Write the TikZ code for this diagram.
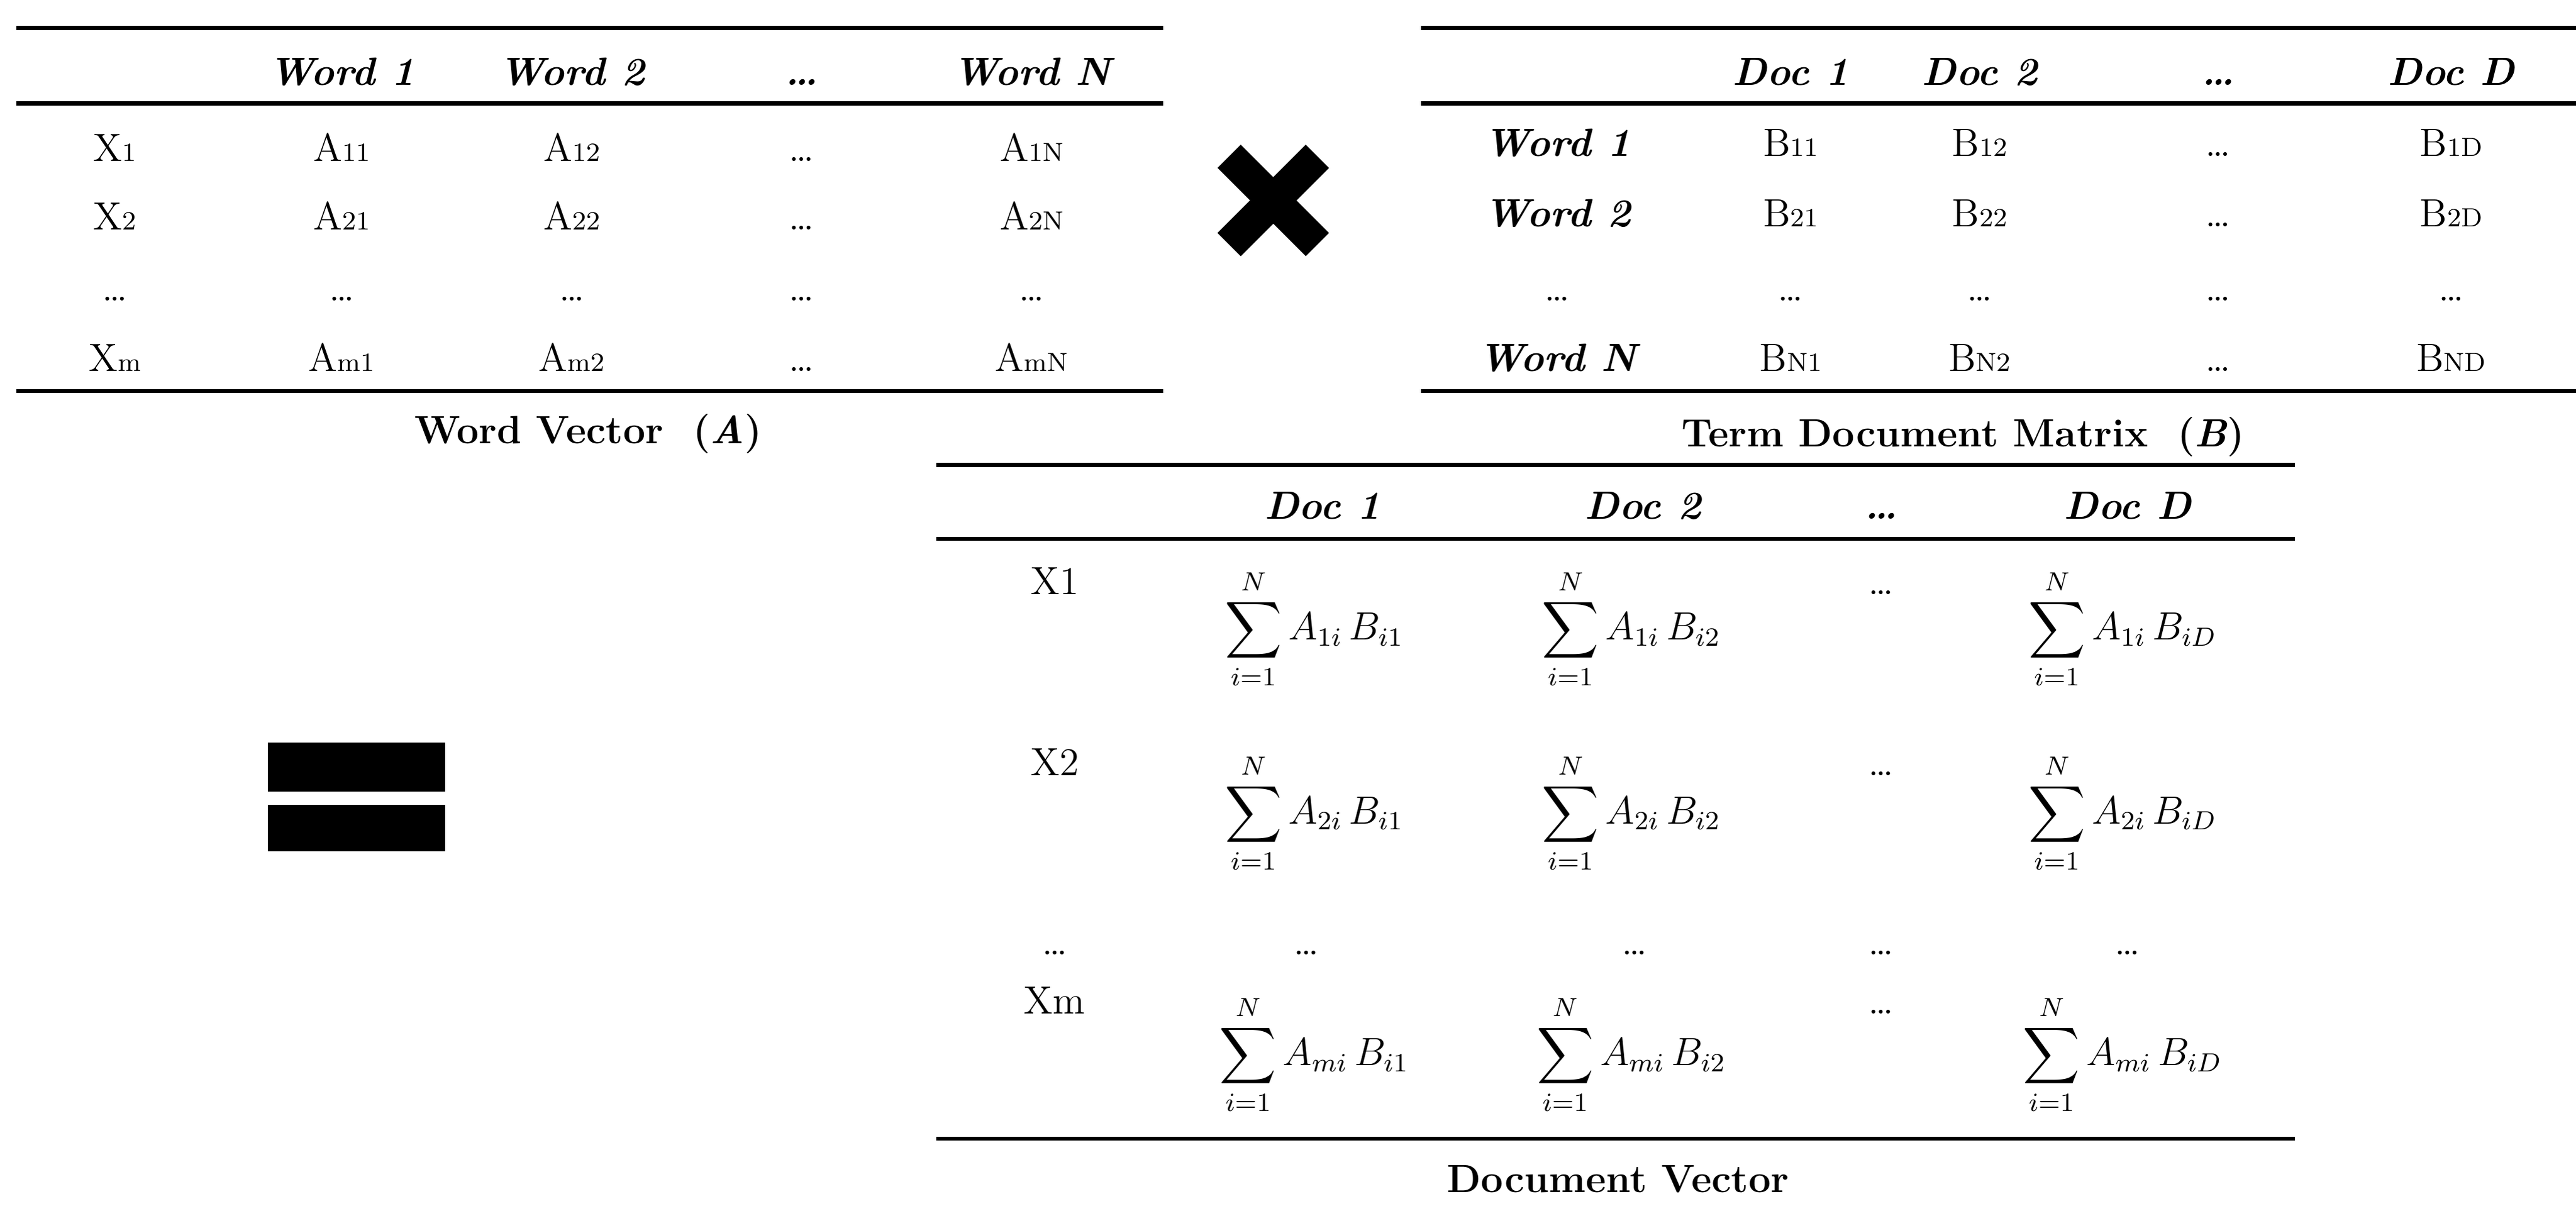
\documentclass[tikz,border=0pt]{standalone}
\usepackage{fontspec}
\usepackage{amsmath}
\begin{document}
\begin{tikzpicture}[x=0.5pt,y=-0.5pt,
  t/.style={font=\fontsize{12}{14}\selectfont,inner sep=0pt,anchor=base},
  h/.style={t,font=\fontsize{12}{14}\selectfont\bfseries\itshape},
  captxt/.style={t,font=\fontsize{12}{14}\selectfont\bfseries},
  rule/.style={line width=1.2pt},
  sm/.style={t,font=\fontsize{12}{14}\selectfont}]
\useasboundingbox (0,0) rectangle (1568,740);
\newcommand{\subsx}[2]{#1{\footnotesize #2}}
% Table A
\draw[rule] (10,17) -- (708,17);
\draw[rule] (10,63) -- (708,63);
\draw[rule] (10,238) -- (708,238);
\node[h] (aw1) at (208,52) {Word 1};
\node[h] (aw2) at (348,52) {Word 2};
\node[h] (awd) at (488,52) {\dots};
\node[h] (awn) at (628,52) {Word N};
\foreach \y/\r in {98/1,140/2,226/m}{
  \node[t] at (70,\y) {\subsx{X}{\r}};
  \node[t] at (208,\y) {\subsx{A}{\r1}};
  \node[t] at (348,\y) {\subsx{A}{\r2}};
  \node[t] at (488,\y) {\dots};
  \node[t] at (628,\y) {\subsx{A}{\r N}};
}
\foreach \x in {70,208,348,488,628} \node[t] at (\x,183) {\dots};
\node[captxt] (capA) at (358,270) {Word Vector \ (\textit{A})};
% cross
\fill[rotate around={45:(775,122)}] (737,112) rectangle (813,132);
\fill[rotate around={-45:(775,122)}] (737,112) rectangle (813,132);
% Table B
\draw[rule] (865,17) -- (1568,17);
\draw[rule] (865,63) -- (1568,63);
\draw[rule] (865,238) -- (1568,238);
\node[h] at (1090,52) {Doc 1};
\node[h] at (1205,52) {Doc 2};
\node[h] at (1350,52) {\dots};
\node[h] at (1492,52) {Doc D};
\foreach \y/\w/\r in {95/1/1,138/2/2,226/N/N}{
  \node[h] at (948,\y) {Word \w};
  \node[t] at (1090,\y) {\subsx{B}{\r1}};
  \node[t] at (1205,\y) {\subsx{B}{\r2}};
  \node[t] at (1350,\y) {\dots};
  \node[t] at (1492,\y) {\subsx{B}{\r D}};
}
\foreach \x in {948,1090,1205,1350,1492} \node[t] at (\x,183) {\dots};
\node[captxt] (capB) at (1195,272) {Term Document Matrix \ (\textit{B})};
% equals
\fill (163,452) rectangle (271,482);
\fill (163,490) rectangle (271,518);
% Table C
\draw[rule] (570,283) -- (1397,283);
\draw[rule] (570,328) -- (1397,328);
\draw[rule] (570,693) -- (1397,693);
\node[h] at (805,316) {Doc 1};
\node[h] at (1000,316) {Doc 2};
\node[h] at (1145,316) {\dots};
\node[h] at (1295,316) {Doc D};
\node[t] at (642,362) {X1};
\node[t] at (642,472) {X2};
\node[t] at (642,617) {Xm};
\foreach \y in {362,472,617} \node[t] at (1145,\y) {\dots};
\foreach \x in {642,795,995,1145,1295} \node[t] at (\x,581) {\dots};
\foreach \y/\r in {383/1,495/2,642/m}{
  \node[sm,anchor=center] at (800,\y) {$\displaystyle\sum_{i=1}^{N} A_{\r i}\,B_{i1}$};
  \node[sm,anchor=center] at (993,\y) {$\displaystyle\sum_{i=1}^{N} A_{\r i}\,B_{i2}$};
  \node[sm,anchor=center] at (1292,\y) {$\displaystyle\sum_{i=1}^{N} A_{\r i}\,B_{iD}$};
}
\node[captxt] (capC) at (985,726) {Document Vector};
\end{tikzpicture}
\end{document}
